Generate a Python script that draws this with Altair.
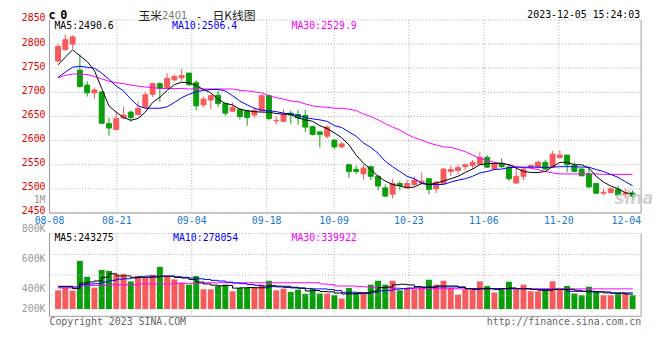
import altair as alt
import pandas as pd

# ---------------- data ----------------
OPEN = [2765, 2789, 2800, 2746, 2715, 2699, 2701, 2635, 2623, 2647,
        2659, 2654, 2669, 2696, 2718, 2710, 2726, 2730, 2740, 2720,
        2674, 2684, 2694, 2677, 2661, 2665, 2662, 2653, 2662, 2693,
        2641, 2640, 2657, 2654, 2652, 2629, 2618, 2609, 2601, 2587,
        2550, 2540, 2531, 2546, 2526, 2502, 2489, 2511, 2504, 2509,
        2512, 2521, 2500, 2511, 2536, 2538, 2546, 2548, 2551, 2565,
        2541, 2553, 2545, 2512, 2526, 2545, 2545, 2555, 2545, 2565,
        2570, 2548, 2541, 2531, 2511, 2491, 2492, 2499, 2489, 2491]
HIGH = [2801, 2820, 2818, 2778, 2723, 2710, 2701, 2647, 2660, 2670,
        2662, 2682, 2701, 2720, 2721, 2740, 2737, 2749, 2740, 2725,
        2691, 2696, 2703, 2677, 2679, 2667, 2662, 2670, 2696, 2696,
        2650, 2665, 2662, 2663, 2663, 2631, 2618, 2631, 2602, 2597,
        2552, 2548, 2550, 2548, 2529, 2509, 2521, 2516, 2519, 2526,
        2534, 2521, 2516, 2543, 2548, 2550, 2550, 2560, 2577, 2570,
        2555, 2563, 2550, 2545, 2546, 2550, 2559, 2560, 2579, 2580,
        2570, 2555, 2543, 2543, 2512, 2500, 2502, 2506, 2500, 2497]
LOW = [2762, 2786, 2790, 2710, 2691, 2687, 2634, 2610, 2622, 2645,
       2639, 2653, 2667, 2690, 2680, 2708, 2723, 2723, 2713, 2663,
       2669, 2665, 2670, 2652, 2659, 2644, 2631, 2648, 2659, 2642,
       2633, 2638, 2635, 2633, 2618, 2611, 2586, 2604, 2582, 2584,
       2523, 2531, 2519, 2518, 2497, 2483, 2480, 2497, 2500, 2506,
       2509, 2489, 2491, 2509, 2526, 2529, 2538, 2541, 2550, 2543,
       2540, 2543, 2516, 2511, 2518, 2541, 2543, 2540, 2543, 2563,
       2534, 2534, 2526, 2502, 2489, 2487, 2491, 2485, 2480, 2477]
CLOSE = [2795, 2809, 2815, 2712, 2699, 2705, 2636, 2626, 2646, 2653,
         2648, 2667, 2695, 2718, 2708, 2729, 2733, 2735, 2716, 2672,
         2686, 2693, 2677, 2657, 2669, 2650, 2648, 2663, 2693, 2646,
         2642, 2654, 2653, 2647, 2628, 2613, 2613, 2628, 2587, 2593,
         2536, 2536, 2543, 2526, 2506, 2485, 2511, 2507, 2511, 2518,
         2516, 2499, 2514, 2541, 2540, 2544, 2550, 2555, 2565, 2545,
         2552, 2546, 2521, 2526, 2541, 2548, 2555, 2541, 2572, 2570,
         2550, 2536, 2527, 2504, 2491, 2493, 2500, 2487, 2491, 2485]
MA5 = [2757, 2773, 2788, 2776, 2764, 2745, 2708, 2672, 2659, 2648,
       2642, 2646, 2659, 2679, 2690, 2704, 2716, 2721, 2720, 2714,
       2706, 2699, 2686, 2677, 2674, 2665, 2662, 2660, 2659, 2659,
       2656, 2655, 2654, 2647, 2643, 2640, 2631, 2625, 2616, 2606,
       2591, 2570, 2553, 2540, 2526, 2516, 2509, 2506, 2502, 2504,
       2511, 2509, 2512, 2516, 2521, 2526, 2534, 2541, 2550, 2552,
       2553, 2553, 2550, 2543, 2536, 2534, 2534, 2536, 2546, 2555,
       2555, 2550, 2550, 2543, 2526, 2514, 2506, 2500, 2492, 2490.6]
MA10 = [2731, 2742, 2752, 2754, 2752, 2750, 2740, 2727, 2713, 2703,
        2686, 2672, 2667, 2667, 2667, 2670, 2679, 2689, 2696, 2701,
        2704, 2706, 2706, 2703, 2693, 2682, 2674, 2667, 2663, 2662,
        2660, 2657, 2655, 2652, 2648, 2645, 2643, 2640, 2631, 2627,
        2618, 2609, 2595, 2586, 2574, 2557, 2546, 2536, 2526, 2521,
        2512, 2509, 2509, 2509, 2514, 2518, 2521, 2526, 2533, 2536,
        2540, 2541, 2544, 2545, 2545, 2545, 2545, 2544, 2545, 2546,
        2546, 2546, 2545, 2545, 2540, 2536, 2530, 2524, 2515, 2506.4]
MA30 = [2730, 2735, 2738, 2738, 2737, 2733, 2728, 2723, 2720, 2718,
        2715, 2713, 2711, 2710, 2708, 2708, 2708, 2708, 2707, 2707,
        2707, 2707, 2707, 2707, 2707, 2704, 2703, 2701, 2699, 2693,
        2689, 2686, 2682, 2681, 2676, 2672, 2670, 2669, 2667, 2667,
        2665, 2662, 2655, 2650, 2643, 2635, 2628, 2622, 2613, 2606,
        2601, 2595, 2591, 2587, 2586, 2582, 2577, 2570, 2563, 2559,
        2555, 2552, 2550, 2546, 2544, 2543, 2540, 2536, 2533, 2531,
        2531, 2531, 2531, 2531, 2531, 2530, 2530, 2530, 2530, 2529.9]
VOL_K = [313.5, 353, 308.5, 803.5, 539.5, 358, 655, 638.5, 589, 589,
         462, 551, 523, 572.5, 704.5, 551, 495, 440.5, 407.5, 551,
         330, 330, 386, 407.5, 297, 353, 353, 369.5, 407.5, 473.5,
         313.5, 341.5, 287, 325, 254, 341.5, 259, 259, 231, 176.5,
         353, 275.5, 275.5, 407.5, 473.5, 407.5, 473.5, 313.5, 353, 330,
         353, 490, 407.5, 473.5, 353, 242.5, 330, 330, 462, 386,
         275.5, 330, 457, 330, 407.5, 297, 297, 330, 462, 330,
         386, 259, 231, 374.5, 292, 231, 231, 259, 267, 231]
VMA5_K = [380, 380, 342, 436, 452, 470, 530, 590, 555, 555,
          530, 530, 530, 535, 551, 551, 528, 518, 495, 452,
          420, 400, 390, 395, 350, 355, 359, 356, 356, 391,
          383, 381, 365, 348, 304, 310, 293, 288, 269, 253,
          256, 259, 262, 298, 357, 368, 407, 415, 404, 375,
          365, 363, 386, 386, 386, 363, 341, 330, 341, 341,
          330, 341, 353, 341, 341, 330, 314, 314, 330, 330,
          330, 314, 297, 297, 287, 271, 265, 265, 250, 243.275]
VMA10_K = [370, 370, 370, 408, 419, 424, 452, 480, 500, 507,
           520, 540, 551, 551, 551, 551, 540, 530, 520, 507,
           495, 480, 469, 450, 435, 424, 410, 396, 385, 375,
           370, 360, 353, 353, 345, 337, 337, 326, 309, 279,
           283, 276, 275, 283, 305, 312, 333, 339, 351, 366,
           366, 370, 370, 370, 370, 370, 341, 341, 341, 341,
           341, 341, 341, 341, 341, 330, 330, 330, 330, 330,
           297, 297, 297, 287, 287, 287, 271, 271, 271, 278.054]
VMA30_K = [353, 353, 353, 386, 395, 395, 395, 407, 407, 407,
           407, 420, 420, 420, 420, 420, 430, 430, 430, 430,
           440, 440, 440, 440, 440, 440, 440, 440, 440, 440,
           440, 440, 440, 440, 440, 440, 420, 407, 386, 386,
           386, 375, 370, 365, 360, 355, 350, 345, 342, 340,
           340, 340, 340, 340, 340, 338, 338, 338, 338, 338,
           338, 338, 338, 338, 338, 338, 338, 338, 338, 338,
           338, 338, 338, 338, 338, 338, 338, 338, 338, 339.922]

GRID_IDX = [9, 19, 29, 38, 48, 58, 68]
LABEL_IDX = [0, 9, 19, 29, 38, 48, 58, 68, 78]
LABEL_DATES = ["08-08", "08-21", "09-04", "09-18", "10-09", "10-23", "11-06", "11-20", "12-04"]
PRICE_TICKS = [2450, 2500, 2550, 2600, 2650, 2700, 2750, 2800, 2850]
VOL_LABELS = ["1M", "800K", "600K", "400K", "200K"]

# ---------------- layout / style ----------------
W, H = 599, 300
PRICE_BOTTOM = 195.4
VOL_TOP = 216.3
PX_PER_UNIT = PRICE_BOTTOM / (2850 - 2450)
PMIN = 2850 - H / PX_PER_UNIT
VOL_ZERO = 292.7
VOL_PER_PX = 16500.0
VOL_LABEL_PX = [182.5, 212, 242, 272, 293]

RED = "#f65a5a"
GREEN = "#0a9e0a"
GRIDC = "#aaaaaa"
BORDER = "#999999"
MONO = "DejaVu Sans Mono"
CJK = "Noto Sans CJK SC"

n = len(CLOSE)
df = pd.DataFrame({
    "i": list(range(n)), "open": OPEN, "high": HIGH, "low": LOW, "close": CLOSE,
    "ma5": MA5, "ma10": MA10, "ma30": MA30,
    "vol": [v * 1000 for v in VOL_K],
    "vma5": [v * 1000 for v in VMA5_K],
    "vma10": [v * 1000 for v in VMA10_K],
    "vma30": [v * 1000 for v in VMA30_K],
})
df["dir"] = ["up" if c >= o else "down" for o, c in zip(OPEN, CLOSE)]
tdf = pd.DataFrame({"p": PRICE_TICKS, "lab": [str(t) for t in PRICE_TICKS]})

cscale = alt.Scale(domain=["up", "down"], range=[RED, GREEN])
X = alt.X("i:Q", scale=alt.Scale(domain=[-0.5, n - 0.5], nice=False, zero=False), axis=None)
pscale = alt.Scale(domain=[PMIN, 2850], nice=False, zero=False)
vscale = alt.Scale(domain=[(VOL_ZERO - H) * VOL_PER_PX, VOL_ZERO * VOL_PER_PX], nice=False, zero=False)

base = alt.Chart(df)

# price panel: horizontal grid + labels on the price scale, candles, moving averages
hgrid = alt.Chart(tdf).mark_rule(color=GRIDC, strokeDash=[1, 2], strokeWidth=1).encode(
    y=alt.Y("p:Q", scale=pscale, axis=None), x=alt.value(0), x2=alt.value(W))
plab = alt.Chart(tdf).mark_text(font=MONO, fontSize=10, color="#e80000", align="right",
                                baseline="middle", dy=-1.5).encode(
    y=alt.Y("p:Q", scale=pscale, axis=None), x=alt.value(-4), text="lab:N")
wick = base.mark_rule(strokeWidth=1).encode(
    x=X, y=alt.Y("low:Q", scale=pscale, axis=None), y2="high:Q",
    color=alt.Color("dir:N", scale=cscale, legend=None))
body = base.mark_bar(size=5, strokeWidth=1).encode(
    x=X, y=alt.Y("open:Q", scale=pscale, axis=None), y2="close:Q",
    fill=alt.Fill("dir:N", scale=cscale, legend=None),
    stroke=alt.Stroke("dir:N", scale=cscale, legend=None))
pma = [base.mark_line(color=c, strokeWidth=1).encode(
    x=X, y=alt.Y(f"{f}:Q", scale=pscale, axis=None))
    for f, c in [("ma30", "#ff00ff"), ("ma10", "#0000ff"), ("ma5", "#000000")]]
price_layer = alt.layer(hgrid, plab, wick, body, *pma)

# volume panel
vbar = base.mark_bar(size=6).encode(
    x=X, y=alt.Y("vol:Q", scale=vscale, axis=None), y2=alt.datum(0),
    color=alt.Color("dir:N", scale=cscale, legend=None))
vma = [base.mark_line(color=c, strokeWidth=1, interpolate="step-after").encode(
    x=X, y=alt.Y(f"{f}:Q", scale=vscale, axis=None))
    for f, c in [("vma30", "#ff00ff"), ("vma10", "#0000ff"), ("vma5", "#000000")]]
vol_layer = alt.layer(vbar, *vma)

# vertical grid and date labels (grid positions on their own index scale)
gscale = alt.Scale(domain=[0, n - 1], nice=False, zero=False)
gdf = pd.DataFrame({"gi": GRID_IDX})
ldf = pd.DataFrame({"li": LABEL_IDX, "lab": LABEL_DATES})
vg1 = alt.Chart(gdf).mark_rule(color=GRIDC, strokeDash=[1, 2]).encode(
    x=alt.X("gi:Q", scale=gscale, axis=None), y=alt.value(0), y2=alt.value(PRICE_BOTTOM))
vg2 = alt.Chart(gdf).mark_rule(color=GRIDC, strokeDash=[1, 2]).encode(
    x=alt.X("gi:Q", scale=gscale, axis=None), y=alt.value(VOL_TOP), y2=alt.value(H))
dtxt = alt.Chart(ldf).transform_filter(f"datum.li < {n - 2}").mark_text(
    font=MONO, fontSize=10, color="#1a78d0", align="center", baseline="middle").encode(
    x=alt.X("li:Q", scale=gscale, axis=None), y=alt.value(203.7), text="lab:N")
dlast = alt.Chart(ldf).transform_filter(f"datum.li >= {n - 2}").mark_text(
    font=MONO, fontSize=10, color="#1a78d0", align="right", baseline="middle", dx=7.6).encode(
    x=alt.X("li:Q", scale=gscale, axis=None), y=alt.value(203.7), text="lab:N")
grid_layer = alt.layer(vg1, vg2, dtxt, dlast)

# decorations: borders and texts
one = pd.DataFrame({"z": [0]})


def hrule(y, dash=None, color=BORDER):
    kw = {"strokeDash": dash} if dash else {}
    return alt.Chart(one).mark_rule(color=color, strokeWidth=1, **kw).encode(
        x=alt.value(0), x2=alt.value(W), y=alt.value(y))


def vrule(x, y0, y1):
    return alt.Chart(one).mark_rule(color=BORDER, strokeWidth=1).encode(
        x=alt.value(x), y=alt.value(y0), y2=alt.value(y1))


def txt(s, x, y, **kw):
    opts = dict(font=MONO, fontSize=10, align="left", baseline="middle", color="#000000")
    opts.update(kw)
    return alt.Chart(one).mark_text(**opts).encode(
        x=alt.value(x), y=alt.value(y), text=alt.value(s))


vol_labels = [txt(s, -4, p, align="right", color="#999999") for s, p in zip(VOL_LABELS, VOL_LABEL_PX)]

deco = alt.layer(
    hrule(PRICE_BOTTOM), vrule(0, 0, PRICE_BOTTOM), vrule(W, 0, PRICE_BOTTOM),
    hrule(VOL_TOP, dash=[1, 2], color=GRIDC), hrule(VOL_TOP + 21, dash=[1, 2], color=GRIDC),
    hrule(VOL_TOP + 42, dash=[1, 2], color=GRIDC), hrule(VOL_TOP + 63, dash=[1, 2], color=GRIDC),
    hrule(H), vrule(0, VOL_TOP, H), vrule(W, VOL_TOP, H),
    *vol_labels,
    txt("sina", 572, 181, font="DejaVu Sans", fontSize=17, fontStyle="italic",
        fontWeight="bold", color="#c8c8c8", opacity=0.8),
    txt("c", -1, -4.5, fontSize=12, fontWeight="bold"),
    txt("0", 11, -4.5, fontSize=12, fontWeight="bold"),
    txt("玉米", 90, -9, font=CJK, fontSize=12, color="#222222", baseline="top"),
    txt("2401", 114, -8.5, font="DejaVu Sans", fontSize=10, color="#777777", baseline="top"),
    txt("-", 148, -8.5, fontSize=11, color="#222222", baseline="top"),
    txt("日K线图", 165, -9, font=CJK, fontSize=12, color="#222222", baseline="top"),
    txt("2023-12-05 15:24:03", 598, -5.2, align="right"),
    txt("MA5:2490.6", 5, 6),
    txt("MA10:2506.4", 124, 6, color="#0000ff"),
    txt("MA30:2529.9", 245, 6, color="#ff00ff"),
    txt("MA5:243275", 5, 220.5),
    txt("MA10:278054", 125, 220.5, color="#0000ff"),
    txt("MA30:339922", 245, 220.5, color="#ff00ff"),
    txt("Copyright 2023 SINA.COM", 0, 306, color="#666666"),
    txt("http://finance.sina.com.cn", 599, 306, align="right", color="#666666"),
)

chart = alt.layer(grid_layer, price_layer, vol_layer, deco).resolve_scale(
    x="independent", y="independent"
).properties(
    width=W, height=H,
    autosize=alt.AutoSizeParams(type="none"),
    padding={"left": 42, "top": 10, "right": 11, "bottom": 32},
).configure_view(strokeWidth=0)

chart.save("out.html", embed_options={"renderer": "svg", "actions": False})
